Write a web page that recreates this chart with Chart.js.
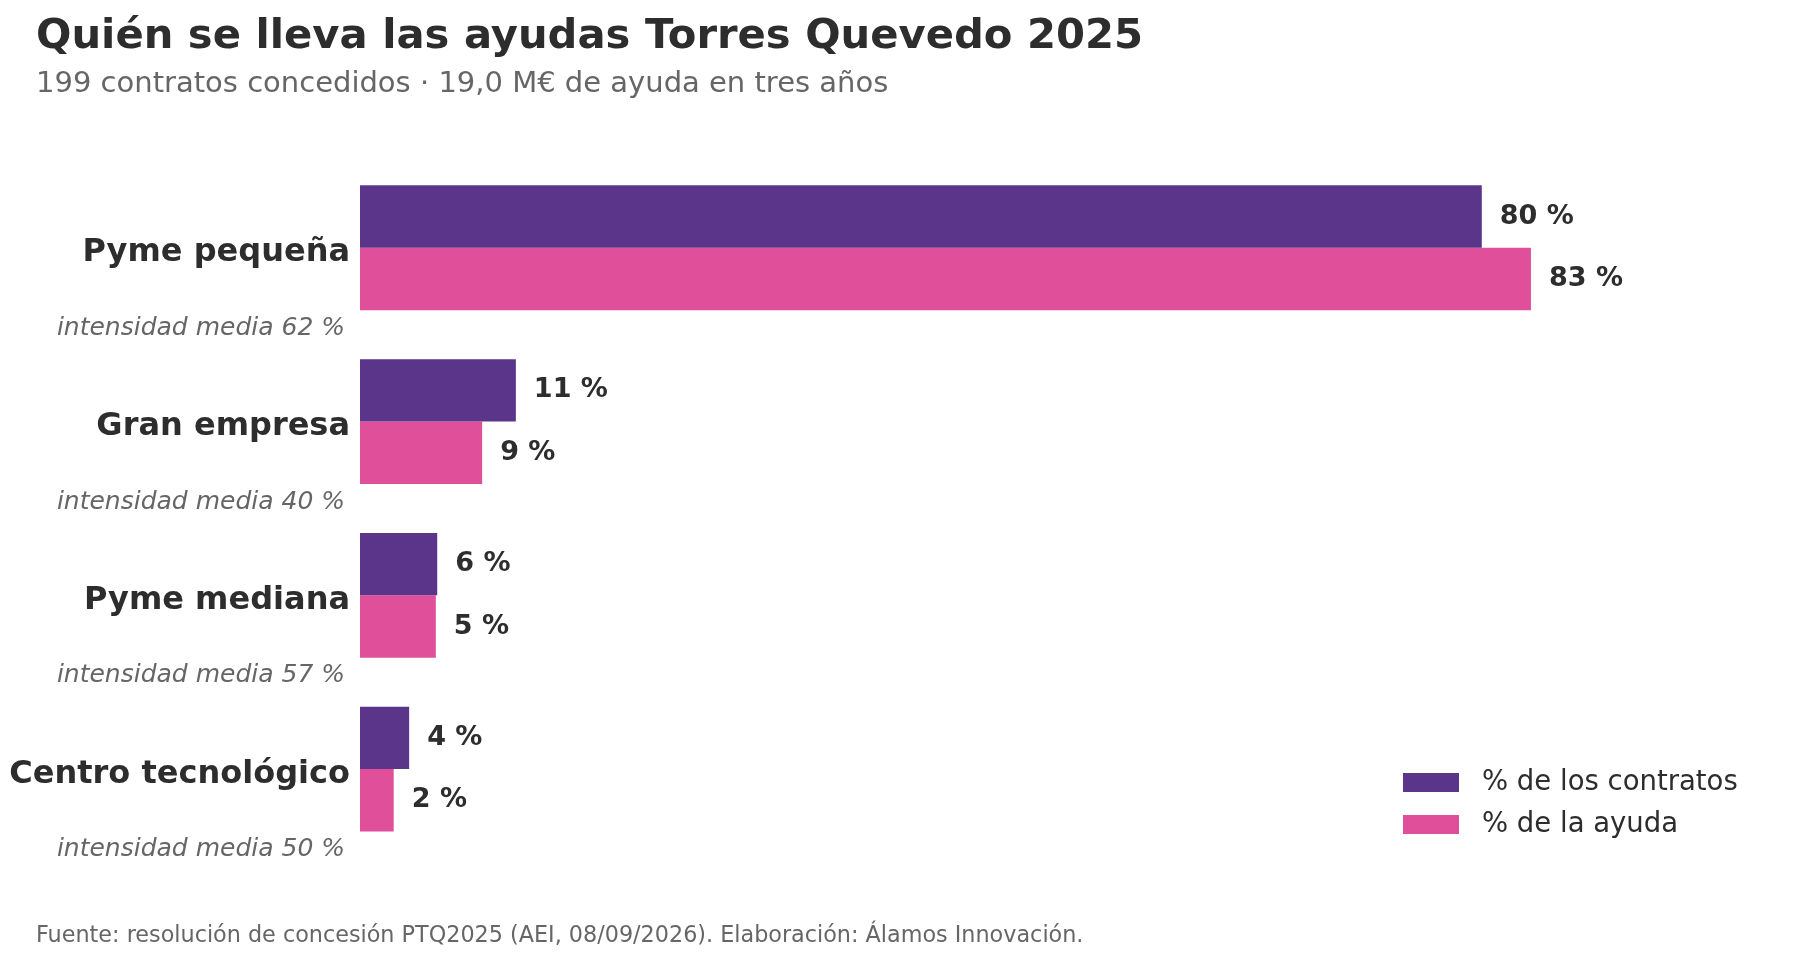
<!DOCTYPE html>
<html lang="es">
<head>
<meta charset="utf-8">
<title>Ayudas Torres Quevedo 2025</title>
<script src="https://cdn.jsdelivr.net/npm/chart.js@4"></script>
<style>
	html, body { margin: 0; padding: 0; background: #fff; }
	#wrap { width: 1800px; height: 960px; position: relative; }
</style>
</head>
<body>
<div id="wrap"><canvas id="chart"></canvas></div>
<script>
// datos
const categorias = ["Pyme pequeña", "Gran empresa", "Pyme mediana", "Centro tecnológico"];
const intensidadMedia = [62, 40, 57, 50];
const pctContratos = [79.9, 11.1, 5.5, 3.5];
const pctAyuda = [83.4, 8.7, 5.4, 2.4];
const nombresSeries = ["% de los contratos", "% de la ayuda"];

const titulo = "Quién se lleva las ayudas Torres Quevedo 2025";
const subtitulo = "199 contratos concedidos · 19,0 M€ de ayuda en tres años";
const fuente = "Fuente: resolución de concesión PTQ2025 (AEI, 08/09/2026). Elaboración: Álamos Innovación.";

const FONT = "'DejaVu Sans', 'Noto Sans', sans-serif";
const MORADO = "#5b3589";
const ROSA = "#e04f9a";
const OSCURO = "#2d2d2d";
const GRIS = "#666666";

// etiquetas de categoría, valores, leyenda y fuente
const extras = {
	id: "extras",
	afterDatasetsDraw(chart) {
		const ctx = chart.ctx;
		ctx.save();
		ctx.fillStyle = OSCURO;
		ctx.font = "bold 27px " + FONT;
		ctx.textAlign = "left";
		ctx.textBaseline = "middle";
		chart.data.datasets.forEach(function (ds, i) {
			chart.getDatasetMeta(i).data.forEach(function (bar, j) {
				ctx.fillText(Math.round(ds.data[j]) + " %", bar.x + 18, bar.y);
			});
		});

		const y = chart.scales.y;
		const derecha = y.right - 10;
		ctx.textAlign = "right";
		ctx.textBaseline = "alphabetic";
		categorias.forEach(function (cat, j) {
			const cy = y.getPixelForValue(j);
			ctx.font = "bold 32px " + FONT;
			ctx.fillStyle = OSCURO;
			ctx.fillText(cat, derecha, cy + 13.5);
			ctx.font = "italic 25px " + FONT;
			ctx.fillStyle = GRIS;
			ctx.fillText("intensidad media " + intensidadMedia[j] + " %", 345, cy + 87);
		});

		// leyenda
		chart.data.datasets.forEach(function (ds, i) {
			const cy = 782.5 + i * 42;
			ctx.fillStyle = ds.backgroundColor;
			ctx.fillRect(1403, cy - 9.5, 56, 19);
			ctx.fillStyle = OSCURO;
			ctx.font = "27.5px " + FONT;
			ctx.textAlign = "left";
			ctx.textBaseline = "middle";
			ctx.fillText(ds.label, 1482, cy);
		});

		ctx.font = "22.3px " + FONT;
		ctx.fillStyle = GRIS;
		ctx.textAlign = "left";
		ctx.textBaseline = "alphabetic";
		ctx.fillText(fuente, 36, 942);
		ctx.restore();
	},
};

const config = {
	type: "bar",
	data: {
		labels: categorias,
		datasets: [
			{
				label: nombresSeries[0],
				data: pctContratos,
				backgroundColor: MORADO,
				categoryPercentage: 0.718,
				barPercentage: 1,
			},
			{
				label: nombresSeries[1],
				data: pctAyuda,
				backgroundColor: ROSA,
				categoryPercentage: 0.718,
				barPercentage: 1,
			},
		],
	},
	options: {
		indexAxis: "y",
		responsive: true,
		maintainAspectRatio: false,
		devicePixelRatio: 1,
		animation: false,
		layout: {
			padding: { left: 36, right: 36, top: 0, bottom: 104 },
		},
		scales: {
			x: {
				display: false,
				min: 0,
				max: 100,
			},
			y: {
				grid: { display: false, drawTicks: false },
				border: { display: false },
				ticks: { display: false },
				afterFit: function (scale) {
					scale.width = 324;
				},
			},
		},
		plugins: {
			legend: { display: false },
			tooltip: { enabled: false },
			title: {
				display: true,
				text: titulo,
				align: "start",
				color: OSCURO,
				font: { family: FONT, size: 41.7, weight: "bold", lineHeight: 1.2 },
				padding: { top: 12.5, bottom: 5 },
			},
			subtitle: {
				display: true,
				text: subtitulo,
				align: "start",
				color: GRIS,
				font: { family: FONT, size: 29, weight: "normal", lineHeight: 1.2 },
				padding: { top: 0, bottom: 58.5 },
			},
		},
	},
	plugins: [extras],
};

const ctx = document.getElementById("chart").getContext("2d");
new Chart(ctx, config);
</script>
</body>
</html>
